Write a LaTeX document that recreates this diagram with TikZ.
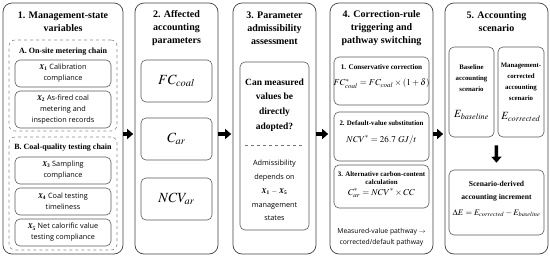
\documentclass[tikz,border=0pt]{standalone}
\usepackage{mathptmx}
\usepackage{fontspec}
\setmainfont{Liberation Serif}
\setsansfont{Open Sans}
\usetikzlibrary{arrows.meta, positioning, calc}

\newcommand{\xv}[1]{{\rmfamily\bfseries\itshape X}\textsubscript{\rmfamily\bfseries #1}}

\tikzset{
  colbox/.style={draw=black!75, line width=0.7pt, rounded corners=9pt,
    minimum width=#1, minimum height=251, inner sep=0pt},
  groupbox/.style={draw=black!45, dashed, line width=0.6pt, rounded corners=6pt, inner sep=0pt},
  innerbox/.style={draw=black!65, line width=0.6pt, rounded corners=5pt, inner sep=1pt, align=center},
  coltitle/.style={font=\fontsize{10}{13}\selectfont\bfseries, align=center},
  grouptitle/.style={font=\fontsize{8}{9}\selectfont\bfseries},
  boxtitle/.style={font=\fontsize{7.2}{9}\selectfont\bfseries, align=center, inner sep=0pt},
  formula/.style={font=\fontsize{9}{11}\selectfont, inner sep=0pt},
  sanstext/.style={font=\sffamily\fontsize{7.3}{11}\selectfont, align=center},
  blockarrow/.style={-{Triangle[length=6pt,width=10pt]}, line width=3.5pt, black},
  divider/.style={draw=black!55, dashed, line width=0.5pt}
}

\begin{document}
\begin{tikzpicture}[x=1pt, y=-1pt]
  \useasboundingbox (0,0) rectangle (550,258);

  %% Column 1: management-state variables
  \node[colbox=120] (col1) at (63,128.5) {};
  \node[coltitle] (t1) at (63,21.5) {1. Management-state\\variables};
  \node[groupbox, minimum width=108, minimum height=91] (grpA) at (63,85.5) {};
  \node[grouptitle] (gA) at (63,52) {A. On-site metering chain};
  \node[innerbox, sanstext, minimum width=96, minimum height=27] (x1) at (63,73.5)
    {\xv{1} Calibration\\compliance};
  \node[innerbox, sanstext, minimum width=96, minimum height=37] (x2) at (63,109.5)
    {\xv{2} As-fired coal\\metering and\\inspection records};
  \node[groupbox, minimum width=108, minimum height=113] (grpB) at (63,193.5) {};
  \node[grouptitle] (gB) at (63,148) {B. Coal-quality testing chain};
  \node[innerbox, sanstext, minimum width=96, minimum height=27] (x3) at (63,170.5)
    {\xv{3} Sampling\\compliance};
  \node[innerbox, sanstext, minimum width=96, minimum height=27] (x4) at (63,201.5)
    {\xv{4} Coal testing\\timeliness};
  \node[innerbox, sanstext, minimum width=96, minimum height=27] (x5) at (63,232.5)
    {\xv{5} Net calorific value\\testing compliance};

  %% Column 2: affected parameters
  \node[colbox=83] (col2) at (176.5,128.5) {};
  \node[coltitle] (t2) at (176.5,28.5) {2. Affected\\accounting\\parameters};
  \node[innerbox, minimum width=71, minimum height=42, font=\fontsize{14}{16}\selectfont] (fc) at (176.5,81) {$FC_{coal}$};
  \node[innerbox, minimum width=71, minimum height=42, font=\fontsize{14}{16}\selectfont] (car) at (176.5,139) {$C_{ar}$};
  \node[innerbox, minimum width=71, minimum height=42, font=\fontsize{14}{16}\selectfont] (ncv) at (176.5,199) {$NCV_{ar}$};

  %% Column 3: admissibility
  \node[colbox=83] (col3) at (274.5,128.5) {};
  \node[coltitle] (t3) at (274.5,28.5) {3. Parameter\\admissibility\\assessment};
  \node[innerbox, minimum width=69, minimum height=168] (adm) at (274.5,146) {};
  \node[coltitle, font=\fontsize{9.5}{14.6}\selectfont\bfseries] (quest) at (274.5,105)
    {Can measured\\values be\\directly\\adopted?};
  \draw[divider] ([xshift=5pt,yshift=1pt]adm.west) -- ([xshift=-5pt,yshift=1pt]adm.east);
  \node[sanstext, font=\sffamily\fontsize{7.3}{13.8}\selectfont] (dep) at (274.5,190.5)
    {Admissibility\\depends on\\\xv{1} $-$ \xv{5}\\management\\states};

  %% Column 4: correction rules
  \node[colbox=103] (col4) at (381.5,128.5) {};
  \node[coltitle] (t4) at (381.5,28.5) {4. Correction-rule\\triggering and\\pathway switching};
  \node[innerbox, minimum width=95, minimum height=48] (rule1) at (381.5,81) {};
  \node[boxtitle] (r1t) at (381.5,67) {1. Conservative correction};
  \node[formula] (r1f) at (381.5,84) {$FC^{*}_{coal} = FC_{coal}\times(1+\delta)$};
  \node[innerbox, minimum width=95, minimum height=49] (rule2) at (381.5,136.5) {};
  \node[boxtitle, font=\fontsize{6.9}{9}\selectfont\bfseries] (r2t) at (381.5,123) {2. Default-value substitution};
  \node[formula] (r2f) at (381.5,140) {$NCV^{*} = 26.7\ GJ/t$};
  \node[innerbox, minimum width=95, minimum height=43] (rule3) at (381.5,186.5) {};
  \node[boxtitle, font=\fontsize{6.9}{8.5}\selectfont\bfseries] (r3t) at (381.5,178) {3. Alternative carbon-content\\calculation};
  \node[formula] (r3f) at (381.5,193) {$C^{*}_{ar} = NCV^{*}\times CC$};
  \node[sanstext, font=\sffamily\fontsize{6.8}{11}\selectfont] (path) at (381.5,237.5)
    {Measured-value pathway $\rightarrow$\\corrected/default pathway};

  %% Column 5: accounting scenario
  \node[colbox=103] (col5) at (496.5,128.5) {};
  \node[coltitle] (t5) at (496.5,21.5) {5. Accounting\\scenario};
  \node[innerbox, minimum width=45, minimum height=90] (base) at (471.5,92) {};
  \node[boxtitle, font=\fontsize{6.8}{11}\selectfont\bfseries] (bt) at (471.5,78) {Baseline\\accounting\\scenario};
  \node[formula, font=\fontsize{11}{13}\selectfont] (bf) at (471.5,115) {$E_{baseline}$};
  \node[innerbox, minimum width=46, minimum height=90] (mgmt) at (521,92) {};
  \node[boxtitle, font=\fontsize{6.8}{11}\selectfont\bfseries] (mt) at (521,81.5) {Management-\\corrected\\accounting\\scenario};
  \node[formula, font=\fontsize{11}{13}\selectfont] (mf) at (521,117) {$E_{corrected}$};
  \node[innerbox, minimum width=95, minimum height=65] (incr) at (496.5,202.5) {};
  \node[boxtitle, font=\fontsize{7.6}{13}\selectfont\bfseries] (it) at (496.5,191.5) {Scenario-derived\\accounting increment};
  \node[formula, font=\fontsize{8.5}{11}\selectfont] (if) at (496.5,213) {$\Delta E = E_{corrected} - E_{baseline}$};
  \coordinate (mid5) at ($(base.south)!.5!(mgmt.south)$);

  %% Flow arrows
  \draw[blockarrow, shorten >=1.5pt] ([yshift=-5.5pt]col1.east) -- ([yshift=-5.5pt]col2.west);
  \draw[blockarrow, shorten >=1.5pt] ([yshift=-5.5pt]col2.east) -- ([yshift=-5.5pt]col3.west);
  \draw[blockarrow, shorten >=1.5pt] ([yshift=-5.5pt]col3.east) -- ([yshift=-5.5pt]col4.west);
  \draw[blockarrow, shorten >=1.5pt] ([yshift=-5.5pt]col4.east) -- ([yshift=-5.5pt]col5.west);
  \draw[blockarrow] ([yshift=-8pt]mid5) -- ([yshift=7pt]incr.north);
\end{tikzpicture}
\end{document}
